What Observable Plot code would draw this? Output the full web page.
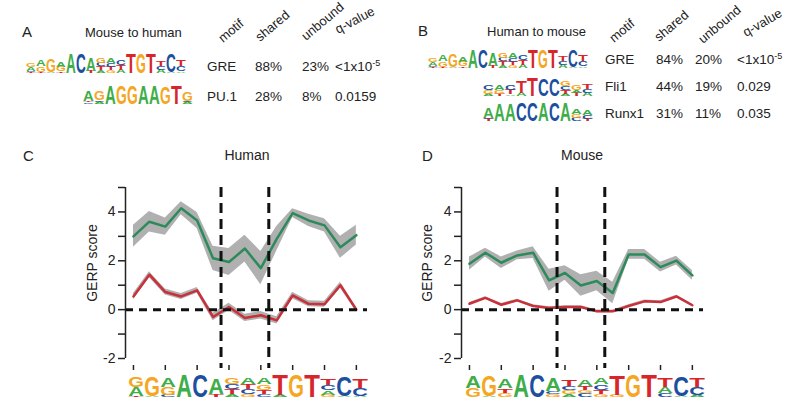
<!DOCTYPE html>
<html><head><meta charset="utf-8">
<script src="https://cdn.jsdelivr.net/npm/d3@7"></script>
<script src="https://cdn.jsdelivr.net/npm/@observablehq/plot@0.6"></script>
<style>
body{margin:0;background:#fff;font-family:Arial,"Liberation Sans",Helvetica,sans-serif;color:#222}
#fig{position:relative;width:800px;height:409px;overflow:hidden}
#fig svg.pl{position:absolute}
</style></head><body><div id="fig"></div>
<script>
// ---------------- DATA ----------------
const positions = d3.range(1, 16);
const xTicks = [1, 3, 5, 7, 9, 11, 13, 15];
const yTicks = [-2, -1, 0, 1, 2, 3, 4, 5];
const boundaries = [6.5, 9.5];

const humanShared   = [3.0, 3.6, 3.4, 4.15, 3.65, 2.1, 1.95, 2.5, 1.7, 2.9, 3.95, 3.65, 3.45, 2.55, 3.05];
const humanSharedSE = [0.45, 0.42, 0.35, 0.27, 0.33, 0.5, 0.55, 0.55, 0.68, 0.5, 0.18, 0.25, 0.27, 0.45, 0.4];
const humanUnbound   = [0.54, 1.43, 0.72, 0.54, 0.79, -0.3, 0.11, -0.34, -0.23, -0.44, 0.58, 0.24, 0.22, 1.0, 0.0];
const humanUnboundSE = [0.12, 0.12, 0.12, 0.12, 0.12, 0.15, 0.15, 0.15, 0.15, 0.15, 0.13, 0.12, 0.12, 0.12, 0.1];

const mouseShared   = [1.88, 2.33, 1.92, 2.22, 2.33, 1.2, 1.5, 0.99, 1.17, 0.68, 2.26, 2.26, 1.74, 2.01, 1.4];
const mouseSharedSE = [0.27, 0.18, 0.24, 0.18, 0.24, 0.45, 0.3, 0.44, 0.4, 0.44, 0.2, 0.2, 0.2, 0.18, 0.2];
const mouseUnbound   = [0.24, 0.48, 0.2, 0.38, 0.15, 0.07, 0.11, 0.11, -0.07, -0.07, 0.15, 0.34, 0.31, 0.54, 0.18];
const mouseUnboundSE = [0.05, 0.05, 0.05, 0.05, 0.05, 0.05, 0.05, 0.05, 0.06, 0.06, 0.05, 0.05, 0.05, 0.05, 0.05];

// Sequence logos: each column lists letters bottom -> top with height in bits
const logoHumanGRE = ["T.1 A.6 G.7", "A.1 G1.3", "C.15 G.5 A.6", "A1.5", "C1.5", "T.2 A1.1",
  "A.2 T.35 C.35 G.4", "G.2 C.35 T.35 A.45", "C.2 T.3 G.35 A.45", "A.15 T1.4", "G1.5", "T1.5",
  "G.15 A.3 C.35 T.4", "A.1 C1.3", "A.1 C.5 T.6"];
const logoMouseGRE = ["G.6 A.8", "A.1 G1.4", "G.3 T.3 A.6", "A1.5", "C1.5", "G.2 C.2 A.9",
  "A.2 G.25 C.3 T.45", "C.25 G.2 T.3 A.45", "G.2 T.3 C.35 A.45", "G.15 T1.3", "G1.5", "T1.5",
  "C.25 A.4 T.6", "A.1 C1.3", "A.15 C.5 T.6"];
const logoGreMtH = ["T.1 C.1 A.35 G.35", "T.1 G.5 A.6", "A.1 G1.2", "T.15 G.4 A.5", "A1.7", "C1.7",
  "T.2 A1.2", "A.25 T.35 C.3 G.4", "G.25 T.3 C.35 A.45", "A.3 T.4 C.5", "T1.7", "G1.7", "T1.7",
  "A.3 C.35 T.45", "A.1 C1.6", "A.15 C.5 T.6"];
const logoPU1 = ["C.15 T.1 A.9", "A.2 C.15 G.8", "A1.6", "G1.6", "G1.6", "A1.6", "A1.6", "G1.5", "T1.6", "A.2 C.1 G.8"];
const logoGreHtM = ["T.1 C.1 A.35 G.35", "T.1 G.5 A.6", "A.1 G1.2", "T.15 G.4 A.5", "A1.65", "C1.65",
  "T.2 A1.2", "A.25 T.35 C.3 G.4", "G.25 T.3 C.35 A.45", "A.3 T.4 C.5", "T1.65", "G1.65", "T1.65",
  "A.3 C.35 T.45", "A.1 C1.55", "A.15 C.5 T.6"];
const logoFli1 = ["A.2 G.35 C.4", "T.2 G.35 A.4", "A.15 T.4 C.5", "A.3 T1.0", "T1.6", "C1.5", "C1.5",
  "A.2 T.3 C.35 G.4", "T.3 A.2 G.5", "A.3 C.3 T.5"];
const logoRunx1 = ["T.2 C.1 A.9", "A1.5", "A1.5", "C1.6", "C1.6", "A1.6", "C1.6", "A1.6", "C.3 G.35 A.45", "T.2 C.35 A.5"];

const tableHeaders = ["motif", "shared", "unbound", "q-value"];
const mthMotifs = ["GRE", "PU.1"], mthShared = ["88%", "28%"], mthUnbound = ["23%", "8%"], mthQ = ["<1x10|-5", "0.0159"];
const htmMotifs = ["GRE", "Fli1", "Runx1"], htmShared = ["84%", "44%", "31%"], htmUnbound = ["20%", "19%", "11%"], htmQ = ["<1x10|-5", "0.029", "0.035"];

// ---------------- STYLE ----------------
const GREEN = "#2c8a5b", RED = "#c9303a", BAND = "#b0b0b0", INK = "#222";
const LETTERS = ["A", "C", "G", "T"], LETTER_COLORS = ["#3fae4a", "#1d4f9f", "#f5a623", "#d7262b"];
const fig = document.getElementById("fig");

function place(svg, left, top) {
  svg.classList.add("pl");
  svg.style.left = left + "px"; svg.style.top = top + "px";
  fig.appendChild(svg);
  return svg;
}

function makeLogo(cols, w, h) {
  const rows = [];
  cols.forEach((c, i) => {
    let base = 0;
    c.split(" ").forEach(tok => {
      const v = +tok.slice(1);
      rows.push({pos: i, letter: tok[0], y1: base, y2: base + v});
      base += v;
    });
  });
  return Plot.plot({
    width: w, height: h, margin: 0,
    x: {type: "band", domain: d3.range(cols.length), padding: 0, axis: null},
    y: {domain: [0, 2], axis: null},
    color: {domain: LETTERS, range: LETTER_COLORS},
    style: {background: "transparent", overflow: "visible"},
    marks: [
      Plot.barY(rows, {x: "pos", y1: "y1", y2: "y2", fill: "none"}),
      Plot.text(rows, {x: "pos", y: "y1", text: "letter", fill: "letter"})
    ]
  });
}

function fitLogo(svg) {
  const bg = svg.querySelector('g[aria-label="bar"]');
  const tg = svg.querySelector('g[aria-label="text"]');
  bg.removeAttribute("transform"); tg.removeAttribute("transform");
  const rects = bg.querySelectorAll("rect");
  const texts = tg.querySelectorAll("text");
  texts.forEach((t, i) => {
    const r = rects[i];
    const x = +r.getAttribute("x"), y = +r.getAttribute("y"), w = +r.getAttribute("width"), h = +r.getAttribute("height");
    ["x", "y", "dy", "transform"].forEach(a => t.removeAttribute(a));
    t.setAttribute("font-size", 100);
    t.setAttribute("font-weight", "bold");
    t.setAttribute("font-family", "Liberation Sans, Arial, sans-serif");
    t.setAttribute("text-anchor", "middle");
    const bb = t.getBBox();
    const sx = (w * 0.98) / bb.width, sy = h / 72;
    t.setAttribute("transform", `translate(${x + w / 2},${y + h}) scale(${sx},${sy})`);
  });
}

function panel(shared, sharedSE, unbound, unboundSE, marginLeft, marginRight) {
  const rows = positions.map((p, i) => ({
    p, s: shared[i], sLo: shared[i] - sharedSE[i], sHi: shared[i] + sharedSE[i],
    u: unbound[i], uLo: unbound[i] - unboundSE[i], uHi: unbound[i] + unboundSE[i]
  }));
  const xDomain = [0.5, 15.7], yDomain = [-2, 5];
  return Plot.plot({
    width: 400, height: 240, marginTop: 27, marginBottom: 42, marginLeft, marginRight,
    x: {domain: xDomain, label: null}, y: {domain: yDomain, label: null},
    style: {background: "transparent", fontFamily: "Arial, Liberation Sans, sans-serif", fontSize: "14px", color: INK, overflow: "visible"},
    marks: [
      Plot.areaY(rows, {x: "p", y1: "sLo", y2: "sHi", fill: BAND}),
      Plot.areaY(rows, {x: "p", y1: "uLo", y2: "uHi", fill: BAND}),
      Plot.lineY(rows, {x: "p", y: "s", stroke: GREEN, strokeWidth: 2.5}),
      Plot.lineY(rows, {x: "p", y: "u", stroke: RED, strokeWidth: 2.5}),
      Plot.ruleY([0], {stroke: "#111", strokeWidth: 3, strokeDasharray: "8,6"}),
      Plot.ruleX(boundaries, {stroke: "#111", strokeWidth: 3, strokeDasharray: "10,6", insetBottom: -10}),
      Plot.ruleX([xDomain[0]], {y1: yDomain[0], y2: yDomain[1], stroke: INK, strokeWidth: 1.5}),
      Plot.axisY({ticks: yTicks, tickFormat: d => d % 2 === 0 ? String(d) : "", tickSize: 7, tickPadding: 3, strokeWidth: 1.5, fill: INK, label: null}),
      Plot.axisX({ticks: xTicks, tickFormat: () => "", tickSize: 5, dy: 7, strokeWidth: 1.5, label: null})
    ]
  });
}

// ---------------- PANELS C & D ----------------
place(panel(humanShared, humanSharedSE, humanUnbound, humanUnboundSE, 125, 33), 0, 160);
place(panel(mouseShared, mouseSharedSE, mouseUnbound, mouseUnboundSE, 61, 97), 400, 160);

// ---------------- LOGOS ----------------
const logos = [
  [logoHumanGRE, 125, 367, 246, 30],
  [logoMouseGRE, 465, 367, 240, 30],
  [logoGreMtH, 18, 50, 175, 23],
  [logoPU1, 82, 81, 111, 23],
  [logoGreHtM, 422, 45, 171, 23],
  [logoFli1, 483, 73, 110, 23],
  [logoRunx1, 483, 98, 110, 23]
];
logos.forEach(([cols, left, top, w, h]) => fitLogo(place(makeLogo(cols, w, h), left, top)));

// ---------------- TEXT ----------------
const NS = "http://www.w3.org/2000/svg";
const ann = document.createElementNS(NS, "svg");
ann.setAttribute("width", 800); ann.setAttribute("height", 409);
ann.style.position = "absolute"; ann.style.left = "0"; ann.style.top = "0";
ann.setAttribute("font-family", "Arial, Liberation Sans, sans-serif");
ann.setAttribute("fill", INK);
fig.appendChild(ann);
function txt(str, x, y, opts = {}) {
  const t = document.createElementNS(NS, "text");
  t.setAttribute("x", x); t.setAttribute("y", y);
  t.setAttribute("font-size", opts.size || 13);
  if (opts.anchor) t.setAttribute("text-anchor", opts.anchor);
  if (opts.rotate) t.setAttribute("transform", `rotate(${opts.rotate},${x},${y})`);
  const [main, sup] = str.split("|");
  t.appendChild(document.createTextNode(main));
  if (sup) {
    const s = document.createElementNS(NS, "tspan");
    s.setAttribute("font-size", 9); s.setAttribute("dy", -5);
    s.textContent = sup; t.appendChild(s);
  }
  ann.appendChild(t);
}
txt("A", 22, 37, {size: 15});
txt("B", 418, 36, {size: 15});
txt("C", 23, 161, {size: 15});
txt("D", 422, 161, {size: 15});
txt("Mouse to human", 85, 37, {size: 13});
txt("Human to mouse", 487, 36, {size: 13});
txt("Human", 247, 160, {size: 14, anchor: "middle"});
txt("Mouse", 582, 160, {size: 14, anchor: "middle"});
txt("GERP score", 97, 263, {size: 14, anchor: "middle", rotate: -90});
txt("GERP score", 432, 263, {size: 14, anchor: "middle", rotate: -90});

const hdrA = [[223, 43, -40], [260, 42, -40], [306, 41, -40], [338, 34, -28]];
const hdrB = [[614, 43, -40], [659, 42, -40], [703, 44, -40], [746, 37, -30]];
tableHeaders.forEach((h, i) => {
  txt(h, hdrA[i][0], hdrA[i][1], {size: 13, rotate: hdrA[i][2]});
  txt(h, hdrB[i][0], hdrB[i][1], {size: 13, rotate: hdrB[i][2]});
});
const colsA = [207, 255, 302, 335], rowsA = [71, 101];
[mthMotifs, mthShared, mthUnbound, mthQ].forEach((col, j) => col.forEach((v, i) => txt(v, colsA[j], rowsA[i], {size: 13.5})));
const colsB = [605, 656, 695, 737], rowsB = [64, 91, 118];
[htmMotifs, htmShared, htmUnbound, htmQ].forEach((col, j) => col.forEach((v, i) => txt(v, colsB[j], rowsB[i], {size: 13.5})));
</script></body></html>
